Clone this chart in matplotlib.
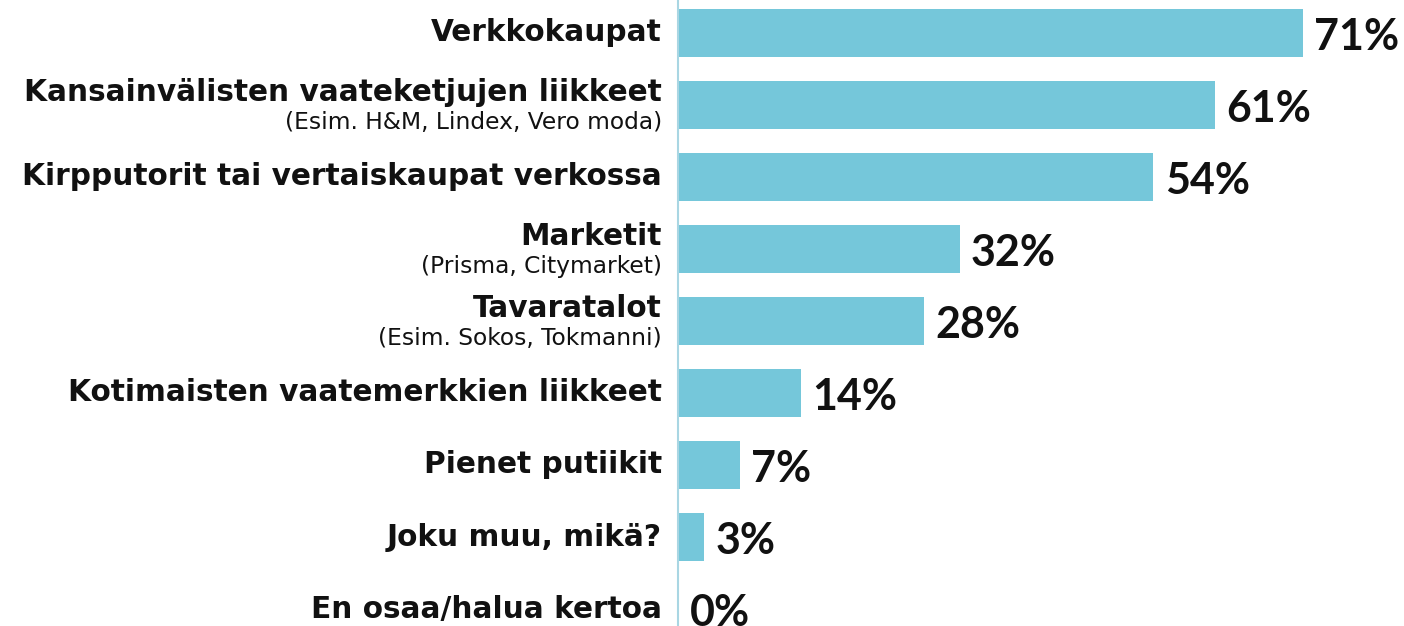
import matplotlib
matplotlib.use("Agg")
import matplotlib.pyplot as plt

#------------------------------------------------------------------------
#                               Data
#------------------------------------------------------------------------
categories = ["Verkkokaupat",
              "Kansainvälisten vaateketjujen liikkeet",
              "Kirpputorit tai vertaiskaupat verkossa",
              "Marketit",
              "Tavaratalot",
              "Kotimaisten vaatemerkkien liikkeet",
              "Pienet putiikit",
              "Joku muu, mikä?",
              "En osaa/halua kertoa"]
sublabels = ["",
             "(Esim. H&M, Lindex, Vero moda)",
             "",
             "(Prisma, Citymarket)",
             "(Esim. Sokos, Tokmanni)",
             "",
             "",
             "",
             ""]
values = [71, 61, 54, 32, 28, 14, 7, 3, 0]

bar_color = "#75c7da"

#------------------------------------------------------------------------
#                               Plot
#------------------------------------------------------------------------
fig = plt.figure(figsize=(14.04, 6.26), dpi=100)
ax = fig.add_axes([678 / 1404, 0, 1 - 678 / 1404, 1])

ypos = list(range(len(values)))
ax.barh(ypos, values, height=0.67, color=bar_color, zorder=2)

ax.set_xlim(0, 82.5)
ax.set_ylim(8.236, -0.458)

for s in ["top", "right", "bottom"]:
    ax.spines[s].set_visible(False)
ax.spines["left"].set_color("#a9d6e3")
ax.spines["left"].set_linewidth(1.5)
ax.set_xticks([])
ax.set_yticks([])

# value labels
for y, v in zip(ypos, values):
    ax.text(v + 1.3, y + 0.06, f"{v}%", va="center", ha="left",
            fontsize=31, fontweight="bold", family="Lato", color="#111111")

# category labels
lx = -0.022
for y, c, sub in zip(ypos, categories, sublabels):
    if sub:
        ax.text(lx, y - 0.18, c, transform=ax.get_yaxis_transform(),
                ha="right", va="center", fontsize=21.3, fontweight="bold",
                family="DejaVu Sans", color="#111111")
        ax.text(lx, y + 0.24, sub, transform=ax.get_yaxis_transform(),
                ha="right", va="center", fontsize=16.8,
                family="DejaVu Sans", color="#111111")
    else:
        ax.text(lx, y, c, transform=ax.get_yaxis_transform(),
                ha="right", va="center", fontsize=21.3, fontweight="bold",
                family="DejaVu Sans", color="#111111")

fig.savefig("out.png", dpi=100)
